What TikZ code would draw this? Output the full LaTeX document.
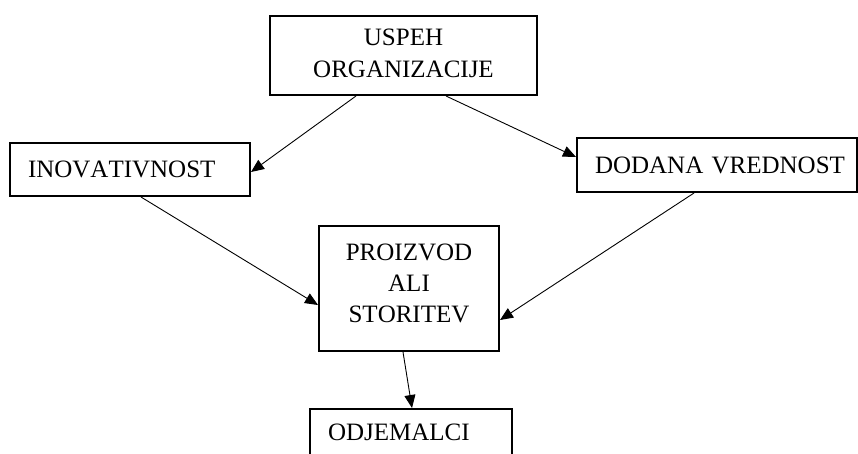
\documentclass[tikz,border=0pt]{standalone}
\usepackage{fontspec}
\setmainfont[Kerning=Off]{Liberation Serif}
\usetikzlibrary{arrows.meta}
\begin{document}
\begin{tikzpicture}[x=1pt,y=-1pt,
  box/.style={draw,line width=2pt,rectangle,inner sep=0pt,font=\fontsize{25}{32}\selectfont},
  lbox/.style={box,align=left,inner xsep=18pt},
  cbox/.style={box,align=center},
  conn/.style={line width=0.9pt,-{Triangle[length=13pt,width=11pt]}}]
\useasboundingbox (0,0) rectangle (858,453);
\node[cbox,minimum width=267,minimum height=79,text depth=4pt] (b1) at (403.5,55.5) {USPEH\\ORGANIZACIJE};
\node[lbox,text width=204,minimum height=53] (b2) at (130,169.5) {\mbox{INOVATIVNOST}};
\node[lbox,text width=244,minimum height=54] (b3) at (717,165) {\mbox{DODANA VREDNOST}};
\node[cbox,minimum width=180,minimum height=125,text depth=11pt,font=\fontsize{25}{31}\selectfont] (b4) at (409,288.5) {PROIZVOD\\ALI\\STORITEV};
\node[lbox,text width=166,minimum height=50,text depth=3pt] (b5) at (411,434) {\mbox{ODJEMALCI}};
\draw[conn] ([xshift=87pt]b1.south west) -- ([yshift=-2.5pt]b2.east);
\draw[conn] ([xshift=177pt]b1.south west) -- ([yshift=8pt]b3.west);
\draw[conn] ([xshift=132pt]b2.south west) -- ([yshift=-16.5pt]b4.west);
\draw[conn] ([xshift=118pt]b3.south west) -- ([yshift=-31.5pt]b4.east);
\draw[conn] ([xshift=85pt]b4.south west) -- ([xshift=1pt]b5.north);
\end{tikzpicture}
\end{document}
